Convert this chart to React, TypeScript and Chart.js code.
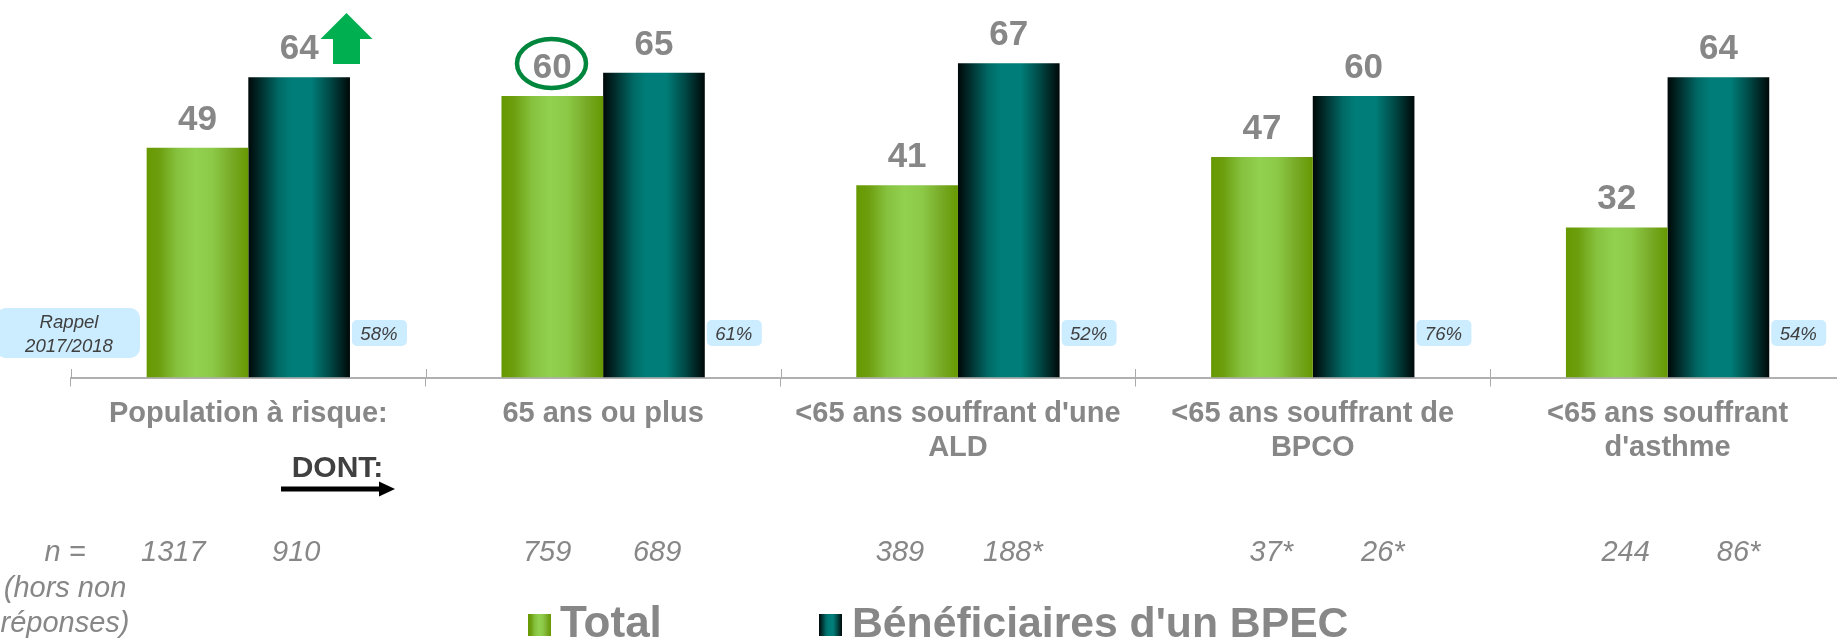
import React, { useEffect, useRef } from "react";
import { Chart, registerables } from "chart.js";

Chart.register(...registerables);

const categories = [
  ["Population à risque:"],
  ["65 ans ou plus"],
  ["<65 ans souffrant d'une", "ALD"],
  ["<65 ans souffrant de", "BPCO"],
  ["<65 ans souffrant", "d'asthme"],
];
const totalValues = [49, 60, 41, 47, 32];
const bpecValues = [64, 65, 67, 60, 64];
const rappelValues = ["58%", "61%", "52%", "76%", "54%"];
const nTotal = ["1317", "759", "389", "37*", "244"];
const nBpec = ["910", "689", "188*", "26*", "86*"];
const nTotalOffsets = [-75, -56, -58, -41.5, -42];
const nBpecOffsets = [48, 54, 55, 70, 71];
const seriesNames = ["Total", "Bénéficiaires d'un BPEC"];

const FONT = '"Liberation Sans", Arial, sans-serif';
const GREY = "#878787";
const DARK = "#404040";
const BADGE = "#CCECFF";
const CAT_PCT = 0.573;

const greenStops: [number, string][] = [
  [0, "#669900"],
  [0.12, "#6C9E0E"],
  [0.3, "#86C23E"],
  [0.48, "#92D050"],
  [0.65, "#8CC947"],
  [0.85, "#76A824"],
  [1, "#669900"],
];
const tealStops: [number, string][] = [
  [0, "#000808"],
  [0.12, "#012E2D"],
  [0.3, "#006A66"],
  [0.42, "#007D78"],
  [0.62, "#007D78"],
  [0.8, "#004A47"],
  [1, "#000808"],
];

function barGradient(ctx: any, x0: number, x1: number, stops: [number, string][]) {
  const g = ctx.createLinearGradient(x0, 0, x1, 0);
  stops.forEach(([o, c]) => g.addColorStop(o, c));
  return g;
}

function scriptedFill(stops: [number, string][], side: number) {
  return (c: any) => {
    const x = c.chart.scales.x;
    if (!x || c.dataIndex === undefined) return stops[3][1];
    const center = x.getPixelForValue(c.dataIndex);
    const w = ((x.width / categories.length) * CAT_PCT) / 2;
    if (!Number.isFinite(center) || !Number.isFinite(w)) return stops[3][1];
    const a = side === 0 ? center - w : center;
    return barGradient(c.chart.ctx, a, a + w, stops);
  };
}

function roundBox(ctx: any, x: number, y: number, w: number, h: number, r: number, fill: string) {
  ctx.beginPath();
  ctx.roundRect(x, y, w, h, r);
  ctx.fillStyle = fill;
  ctx.fill();
}

const overlayPlugin = {
  id: "overlay",
  afterDraw(chart: any) {
    const { ctx, scales } = chart;
    const x = scales.x;
    const band = x.width / categories.length;
    const barW = (band * CAT_PCT) / 2;
    ctx.save();

    // upper part of the axis tick marks
    ctx.strokeStyle = "#AAAAAA";
    ctx.lineWidth = 1;
    for (let i = 0; i <= categories.length; i++) {
      const px = Math.round(x.left + i * band) + 0.5;
      ctx.beginPath();
      ctx.moveTo(px, 369);
      ctx.lineTo(px, 378);
      ctx.stroke();
    }

    // value labels
    ctx.textAlign = "center";
    ctx.textBaseline = "alphabetic";
    ctx.font = `bold 35px ${FONT}`;
    ctx.fillStyle = GREY;
    chart.data.datasets.forEach((ds: any, di: number) => {
      chart.getDatasetMeta(di).data.forEach((el: any, i: number) => {
        ctx.fillText(String(ds.data[i]), el.x, el.y - 18);
      });
    });

    // rappel badges
    ctx.font = `italic 18.6px ${FONT}`;
    rappelValues.forEach((v, i) => {
      const right = x.getPixelForValue(i) + barW;
      roundBox(ctx, right + 2, 320, 55, 26, 5, BADGE);
      ctx.fillStyle = DARK;
      ctx.fillText(v, right + 29, 339.5);
    });
    roundBox(ctx, -4, 308, 144, 50, 10, BADGE);
    ctx.fillStyle = DARK;
    ctx.fillText("Rappel", 69, 328);
    ctx.fillText("2017/2018", 69, 352);

    // sample sizes
    ctx.font = `italic 29px ${FONT}`;
    ctx.fillStyle = GREY;
    categories.forEach((_, i) => {
      const c = x.getPixelForValue(i);
      ctx.fillText(nTotal[i], c + nTotalOffsets[i], 561);
      ctx.fillText(nBpec[i], c + nBpecOffsets[i], 561);
    });
    ctx.fillText("n =", 65, 561);
    ctx.fillText("(hors non", 65, 597);
    ctx.fillText("réponses)", 65, 632);

    // DONT with its arrow
    ctx.font = `bold 30px ${FONT}`;
    ctx.fillStyle = DARK;
    ctx.fillText("DONT:", 337.5, 477);
    ctx.fillStyle = "#000000";
    ctx.fillRect(281, 486.5, 99, 5);
    ctx.beginPath();
    ctx.moveTo(379, 481.5);
    ctx.lineTo(395, 489);
    ctx.lineTo(379, 496.5);
    ctx.closePath();
    ctx.fill();

    // green up arrow
    ctx.fillStyle = "#00B050";
    ctx.beginPath();
    ctx.moveTo(346.5, 13);
    ctx.lineTo(372.5, 39);
    ctx.lineTo(360, 39);
    ctx.lineTo(360, 64);
    ctx.lineTo(333, 64);
    ctx.lineTo(333, 39);
    ctx.lineTo(320.5, 39);
    ctx.closePath();
    ctx.fill();

    // ellipse around 60
    ctx.strokeStyle = "#00863D";
    ctx.lineWidth = 4.5;
    ctx.beginPath();
    ctx.ellipse(551.5, 63.5, 34.5, 24.5, 0, 0, Math.PI * 2);
    ctx.stroke();

    // legend
    ctx.textAlign = "left";
    ctx.fillStyle = barGradient(ctx, 528, 551, greenStops);
    ctx.fillRect(528, 614, 23, 22);
    ctx.fillStyle = barGradient(ctx, 819, 842, tealStops);
    ctx.fillRect(819, 614, 23, 22);
    ctx.fillStyle = GREY;
    ctx.font = `bold 44px ${FONT}`;
    ctx.fillText(seriesNames[0], 560, 637);
    ctx.font = `bold 42.7px ${FONT}`;
    ctx.fillText(seriesNames[1], 852, 637);
    ctx.restore();
  },
};

export default function App() {
  const ref = useRef<HTMLCanvasElement>(null);
  useEffect(() => {
    const chart = new Chart(ref.current as HTMLCanvasElement, {
      type: "bar",
      data: {
        labels: categories as any,
        datasets: [
          {
            label: seriesNames[0],
            data: totalValues,
            backgroundColor: scriptedFill(greenStops, 0) as any,
            barPercentage: 1,
            categoryPercentage: CAT_PCT,
          },
          {
            label: seriesNames[1],
            data: bpecValues,
            backgroundColor: scriptedFill(tealStops, 1) as any,
            barPercentage: 1,
            categoryPercentage: CAT_PCT,
          },
        ],
      },
      options: {
        responsive: false,
        animation: false,
        layout: { padding: { left: 70.9, right: 15, top: 2.3, bottom: 0 } },
        plugins: { legend: { display: false }, tooltip: { enabled: false }, title: { display: false } },
        scales: {
          x: {
            grid: { offset: true, drawOnChartArea: false, drawTicks: true, tickLength: 9, color: "#AAAAAA" },
            border: { display: true, color: "#B0B0B0", width: 2 },
            ticks: {
              autoSkip: false,
              maxRotation: 0,
              minRotation: 0,
              padding: 10.5,
              color: GREY,
              font: { family: FONT, size: 29, weight: "bold", lineHeight: 1.17 },
            },
            afterFit: (s: any) => {
              s.height = 261.5;
            },
          },
          y: { display: false, min: 0, max: 80 },
        },
      },
      plugins: [overlayPlugin],
    });
    return () => chart.destroy();
  }, []);
  return (
    <div style={{ position: "fixed", left: 0, top: 0, width: 1837, height: 639, overflow: "hidden", background: "#fff" }}>
      <canvas ref={ref} width={1860} height={639} style={{ display: "block" }} />
    </div>
  );
}
